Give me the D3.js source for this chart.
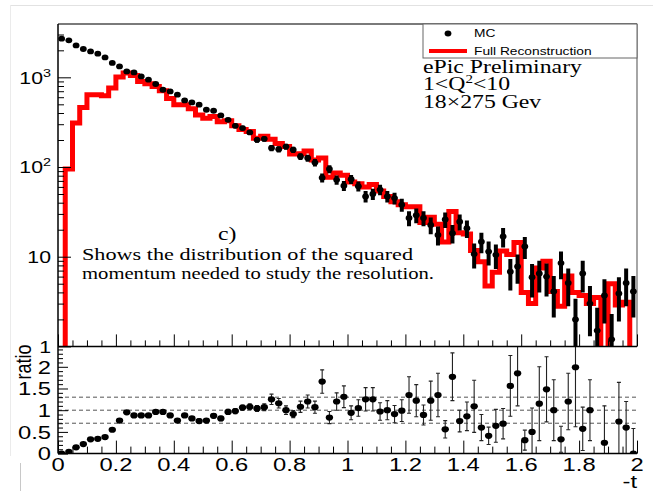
<!DOCTYPE html>
<html><head><meta charset="utf-8">
<script src="https://cdn.jsdelivr.net/npm/d3@7"></script>
<style>html,body{margin:0;padding:0;background:#fff;} svg{display:block;}</style>
</head><body>
<svg id="c" width="653" height="491"></svg>
<script>
// ---------------- data ----------------
const nBins = 80;
const tRange = [0, 2];
const xTickValues = [0, 0.2, 0.4, 0.6, 0.8, 1, 1.2, 1.4, 1.6, 1.8, 2];
const xTickLabels = ["0", "0.2", "0.4", "0.6", "0.8", "1", "1.2", "1.4", "1.6", "1.8", "2"];
const topTickValues = [1, 10, 100, 1000];
const topTickText = ["1", "10", "10", "10"];
const topTickSup = ["", "", "2", "3"];
const ratioTickValues = [0, 0.5, 1, 1.5, 2];
const ratioTickLabels = ["0", "0.5", "1", "1.5", "2"];
const ratioRefLines = [0.7, 1.0, 1.3];

const mcValues = [2697, 2582, 2270, 2069, 1945, 1834, 1667, 1445, 1324, 1164, 1135, 1024, 940, 842, 727, 696, 640, 552, 525, 495, 435, 424, 376, 336, 288, 272, 243,
  201, 206, 163, 158, 169, 156, 131, 126, 112, 76, 95, 72, 62, 73, 61, 47, 50, 56, 47, 45, 38, 27, 29, 27, 22.6, 17.5, 26, 18.3,
  24.6, 20.8, 10.7, 14.7, 11.4, 10.5, 16.8, 6.8, 7.8, 13, 5.9, 6.5, 6.0, 4.1, 8.5, 5.1, 2.0, 6.5, 3.0, 1.5, 3.7, 1.2, 3.9, 5.1, 4.1];
const mcErrors = [52, 51, 48, 45, 44, 43, 41, 38, 36, 34, 34, 32, 31, 29, 27, 26, 25, 23.5, 23, 22, 21, 20.6, 19.4, 18.3, 17, 16.5, 15.6,
  14.2, 14.4, 12.8, 12.6, 13, 12.5, 11.4, 11.2, 10.6, 8.7, 9.7, 8.5, 7.9, 8.5, 7.8, 6.9, 7.1, 7.5, 6.9, 6.7, 6.2, 5.2, 5.4, 5.2, 4.8, 4.2, 5.1, 4.3,
  5.0, 4.6, 3.3, 3.8, 3.4, 3.2, 4.1, 2.6, 2.8, 3.6, 2.4, 2.5, 2.4, 2.0, 2.9, 2.3, 1.4, 2.5, 1.7, 1.2, 1.9, 1.1, 2.0, 2.3, 2.0];
const recoValues = [0, 95, 309, 461, 640, 640, 623, 760, 1007, 1117, 1050, 900, 848, 791, 710, 580, 495, 495, 445, 380, 350, 366, 320, 328, 288, 262, 249,
  209, 220, 204, 183, 169, 140, 141, 151, 120, 126, 77, 86, 81, 68, 65, 60, 64, 54, 47, 41, 38, 36, 36, 24, 27.6, 23, 14.6, 32,
  18.5, 17.9, 11.7, 8.8, 4.7, 6.7, 11.6, 10.6, 14.4, 4.0, 3.0, 7.5, 8.9, 4.1, 2.8, 6.1, 4.0, 3.7, 3.0, 3.5, 0.9, 5.0, 2.9, 3.1, 0];
const ratioValues = [0.0, 0.04, 0.145, 0.22, 0.33, 0.34, 0.38, 0.55, 0.76, 0.95, 0.88, 0.88, 0.88, 0.96, 0.96, 0.88, 0.76, 0.88, 0.81, 0.75, 0.76, 0.87, 0.81, 0.96, 0.98, 1.06, 1.08, 1.04, 1.07,
  1.25, 1.16, 1.0, 0.91, 1.08, 1.2, 1.07, 1.66, 0.83, 1.2, 1.31, 0.94, 1.05, 1.25, 1.25, 0.97, 1.0, 0.91, 0.99, 1.35, 1.22, 0.89, 1.22, 1.35, 0.56,
  1.77, 0.75, 0.86, 1.09, 0.6, 0.41, 0.64, 0.69, 1.56, 1.85, 0.31, 0.5, 1.15, 1.48, 1.0, 0.33, 1.2, 1.99, 0.57, 1.0, null, 0.25, null, 0.74, 0.6, 0.0];
const ratioErrors = [0.01, 0.01, 0.01, 0.01, 0.01, 0.01, 0.01, 0.02, 0.02, 0.03, 0.03, 0.03, 0.03, 0.03, 0.04, 0.04, 0.04, 0.04, 0.04, 0.05, 0.05, 0.05, 0.05, 0.06, 0.06, 0.06, 0.07, 0.07, 0.08,
  0.12, 0.11, 0.1, 0.08, 0.13, 0.15, 0.14, 0.27, 0.14, 0.2, 0.25, 0.16, 0.19, 0.27, 0.27, 0.2, 0.22, 0.2, 0.25, 0.42, 0.37, 0.23, 0.45, 0.5, 0.2,
  0.55, 0.25, 0.33, 0.6, 0.3, 0.2, 0.38, 0.35, 0.7, 0.75, 0.23, 0.55, 0.85, 0.75, 0.7, 0.3, 0.65, 1.37, 0.5, 0.7, null, 0.85, null, 0.9, 0.6, 0.58];

const legendLabels = ["MC", "Full Reconstruction"];
const infoLines = ["ePic Preliminary", "18×275 Gev"];
const q2Parts = ["1<Q", "2", "<10"];
const panelLabel = "c)";
const descLines = ["Shows the distribution of the squared", "momentum needed to study the resolution."];
const xTitle = "-t";
const yRatioTitle = "ratio";

// ---------------- layout ----------------
const svg = d3.select("#c");
const L = 58, R = 637, T = 24, MID = 346.4, B = 453.6;
const SX = 1.25; // horizontal stretch of the original picture's text
const sans = "'Liberation Sans', Arial, Helvetica, sans-serif";
const serif = "'Liberation Serif', 'Times New Roman', serif";

const x = d3.scaleLinear().domain(tRange).range([L, R]);
const yTop = d3.scaleLog().domain([1, 3930]).range([MID, T]);
const yRat = d3.scaleLinear().domain([0, 2.47]).range([B, MID]);

const binW = (tRange[1] - tRange[0]) / nBins;
const bins = d3.range(nBins).map(i => ({
  lo: tRange[0] + i * binW, hi: tRange[0] + (i + 1) * binW, c: tRange[0] + (i + 0.5) * binW,
  mc: mcValues[i], mcErr: mcErrors[i], reco: recoValues[i], r: ratioValues[i], rErr: ratioErrors[i]
}));

function stretchedText(g, px, py, str, size, family, anchor) {
  return g.append("text")
    .attr("transform", `translate(${px},${py}) scale(${SX},1)`)
    .attr("text-anchor", anchor || "start")
    .style("font-family", family).style("font-size", size + "px")
    .attr("fill", "#000").text(str);
}

// outer faint frame of the original screenshot
svg.append("line").attr("x1", 10).attr("x2", 653).attr("y1", 5.5).attr("y2", 5.5).attr("stroke", "#e2e2e2");
svg.append("line").attr("x1", 10.5).attr("x2", 10.5).attr("y1", 5).attr("y2", 456).attr("stroke", "#ebebeb");
svg.append("line").attr("x1", 20.5).attr("x2", 20.5).attr("y1", 463).attr("y2", 491).attr("stroke", "#c8c8c8");

const defs = svg.append("defs");
defs.append("clipPath").attr("id", "clipTop").append("rect").attr("x", L).attr("y", T).attr("width", R - L).attr("height", MID - T);
defs.append("clipPath").attr("id", "clipRat").append("rect").attr("x", L).attr("y", MID).attr("width", R - L).attr("height", B - MID);

// ---------------- top panel ----------------
const gTop = svg.append("g");
gTop.append("line").attr("x1", L).attr("x2", R).attr("y1", T).attr("y2", T).attr("stroke", "#7a7a7a").attr("stroke-width", 2);
gTop.append("line").attr("x1", R).attr("x2", R).attr("y1", T).attr("y2", MID).attr("stroke", "#6a6a6a").attr("stroke-width", 1.2);

// legend box
const gLeg = svg.append("g");
gLeg.append("rect").attr("x", 423).attr("y", T).attr("width", R - 423).attr("height", 34)
  .attr("fill", "#fff").attr("stroke", "#666").attr("stroke-width", 1);
gLeg.append("ellipse").attr("cx", 448).attr("cy", 33.5).attr("rx", 3.4).attr("ry", 2.9).attr("fill", "#000");
gLeg.append("line").attr("x1", 429).attr("x2", 467).attr("y1", 51).attr("y2", 51).attr("stroke", "#ff0000").attr("stroke-width", 4);
stretchedText(gLeg, 474, 37, legendLabels[0], 11, sans);
stretchedText(gLeg, 474, 55, legendLabels[1], 11, sans);

// info text
stretchedText(svg, 423, 73, infoLines[0], 19, serif);
const q2 = svg.append("text").attr("transform", `translate(423,89.5) scale(${SX},1)`)
  .style("font-family", serif).style("font-size", "19px").attr("fill", "#000");
q2.append("tspan").text(q2Parts[0]);
q2.append("tspan").attr("dy", -7).style("font-size", "12px").text(q2Parts[1]);
q2.append("tspan").attr("dy", 7).text(q2Parts[2]);
stretchedText(svg, 423, 107.5, infoLines[1], 19, serif);

// panel label & description
stretchedText(svg, 218, 240, panelLabel, 19, serif);
stretchedText(svg, 82, 259.5, descLines[0], 17, serif)
  .attr("textLength", 331 / SX).attr("lengthAdjust", "spacingAndGlyphs");
stretchedText(svg, 82, 278.5, descLines[1], 17, serif)
  .attr("textLength", 352 / SX).attr("lengthAdjust", "spacingAndGlyphs");

// red reconstruction histogram
const below = MID + 6;
const yClampTop = v => (v >= 1 ? yTop(v) : below);
const histPts = [[x(tRange[0]), below]];
bins.forEach(b => { histPts.push([x(b.lo), yClampTop(b.reco)]); histPts.push([x(b.hi), yClampTop(b.reco)]); });
histPts.push([x(tRange[1]), below]);
gTop.append("path").attr("clip-path", "url(#clipTop)")
  .attr("d", d3.line()(histPts)).attr("fill", "none")
  .attr("stroke", "#ff0000").attr("stroke-width", 5).attr("stroke-linejoin", "miter");

// MC points with error bars
const gMC = gTop.append("g").attr("clip-path", "url(#clipTop)");
bins.filter(b => b.mc > 0).forEach(b => {
  const lo = Math.max(b.mc - b.mcErr, 0.3);
  gMC.append("line").attr("x1", x(b.c)).attr("x2", x(b.c))
    .attr("y1", yTop(lo)).attr("y2", yTop(b.mc + b.mcErr))
    .attr("stroke", "#000").attr("stroke-width", 4);
  gMC.append("ellipse").attr("cx", x(b.c)).attr("cy", yTop(b.mc)).attr("rx", 3.4).attr("ry", 2.9).attr("fill", "#000");
});

// top axes
const minorTopY = [];
[1, 10, 100, 1000].forEach(d => { for (let k = 2; k <= 9; k++) if (d * k <= 3930) minorTopY.push(d * k); });
gTop.append("g").attr("transform", `translate(${L},0)`)
  .call(d3.axisLeft(yTop).tickValues(topTickValues).tickSize(-13).tickFormat(""))
  .call(g => g.select(".domain").remove());
gTop.append("g").attr("transform", `translate(${L},0)`)
  .call(d3.axisLeft(yTop).tickValues(minorTopY).tickSize(-6).tickFormat(""))
  .call(g => g.select(".domain").remove());
const xMinor = d3.range(0, 2.0001, 0.05).filter(v => Math.abs(v / 0.2 - Math.round(v / 0.2)) > 1e-6);
gTop.append("g").attr("transform", `translate(0,${MID})`)
  .call(d3.axisTop(x).tickValues(xTickValues).tickSize(12).tickFormat(""))
  .call(g => g.select(".domain").remove());
gTop.append("g").attr("transform", `translate(0,${MID})`)
  .call(d3.axisTop(x).tickValues(xMinor).tickSize(6).tickFormat(""))
  .call(g => g.select(".domain").remove());

// top y labels
topTickValues.forEach((v, i) => {
  const t = svg.append("text").attr("transform", `translate(51,${yTop(v) + 6.2}) scale(${SX},1)`)
    .attr("text-anchor", "end").style("font-family", sans).style("font-size", "17px").attr("fill", "#000");
  t.append("tspan").text(topTickText[i]);
  if (topTickSup[i]) t.append("tspan").attr("dy", -7).style("font-size", "11.5px").text(topTickSup[i]);
});

// ---------------- ratio panel ----------------
const gRat = svg.append("g");
gRat.append("g").attr("clip-path", "url(#clipRat)").selectAll("line.ref").data(ratioRefLines).join("line")
  .attr("x1", L).attr("x2", R).attr("y1", d => yRat(d)).attr("y2", d => yRat(d))
  .attr("stroke", "#555").attr("stroke-width", 1).attr("stroke-dasharray", "4,3");

const gRP = gRat.append("g").attr("clip-path", "url(#clipRat)");
bins.filter(b => b.r !== null).forEach(b => {
  const cx = x(b.c);
  const y1 = yRat(b.r - b.rErr), y2 = yRat(b.r + b.rErr);
  gRP.append("line").attr("x1", cx).attr("x2", cx).attr("y1", y1).attr("y2", y2).attr("stroke", "#222").attr("stroke-width", 1.1);
  [y1, y2].forEach(yy => gRP.append("line").attr("x1", cx - 2).attr("x2", cx + 2).attr("y1", yy).attr("y2", yy).attr("stroke", "#222").attr("stroke-width", 1.1));
  gRP.append("ellipse").attr("cx", cx).attr("cy", yRat(b.r)).attr("rx", 3.7).attr("ry", 3.1).attr("fill", "#000");
});

// ratio axes
const ratMinor = d3.range(0, 2.4001, 0.1).filter(v => Math.abs(v / 0.5 - Math.round(v / 0.5)) > 1e-6);
gRat.append("g").attr("transform", `translate(${L},0)`)
  .call(d3.axisLeft(yRat).tickValues(ratioTickValues).tickSize(-10).tickFormat(""))
  .call(g => g.select(".domain").remove());
gRat.append("g").attr("transform", `translate(${L},0)`)
  .call(d3.axisLeft(yRat).tickValues(ratMinor).tickSize(-5).tickFormat(""))
  .call(g => g.select(".domain").remove());
gRat.append("g").attr("transform", `translate(0,${B})`)
  .call(d3.axisTop(x).tickValues(xTickValues).tickSize(13).tickFormat(""))
  .call(g => g.select(".domain").remove());
gRat.append("g").attr("transform", `translate(0,${B})`)
  .call(d3.axisTop(x).tickValues(xMinor).tickSize(7).tickFormat(""))
  .call(g => g.select(".domain").remove());
svg.selectAll(".tick line").attr("stroke", "#000").attr("stroke-width", 1);

ratioTickValues.forEach((v, i) => stretchedText(gRat, 51, yRat(v) + 6.8, ratioTickLabels[i], 19, sans, "end"));
xTickValues.forEach((v, i) => stretchedText(gRat, x(v), 470.5, xTickLabels[i], 19, sans, "middle"));
stretchedText(gRat, R, 488, xTitle, 19, sans, "end");
gRat.append("text").attr("transform", `translate(31,362) rotate(-90) scale(1,${SX})`)
  .attr("text-anchor", "middle").style("font-family", sans).style("font-size", "18px").attr("fill", "#000").text(yRatioTitle);

// axis lines
svg.append("line").attr("x1", L).attr("x2", L).attr("y1", T).attr("y2", B).attr("stroke", "#000").attr("stroke-width", 1.5);
svg.append("line").attr("x1", L).attr("x2", R).attr("y1", MID).attr("y2", MID).attr("stroke", "#000").attr("stroke-width", 1.5);
svg.append("line").attr("x1", L).attr("x2", R).attr("y1", B).attr("y2", B).attr("stroke", "#000").attr("stroke-width", 1.5);
</script>
</body></html>
